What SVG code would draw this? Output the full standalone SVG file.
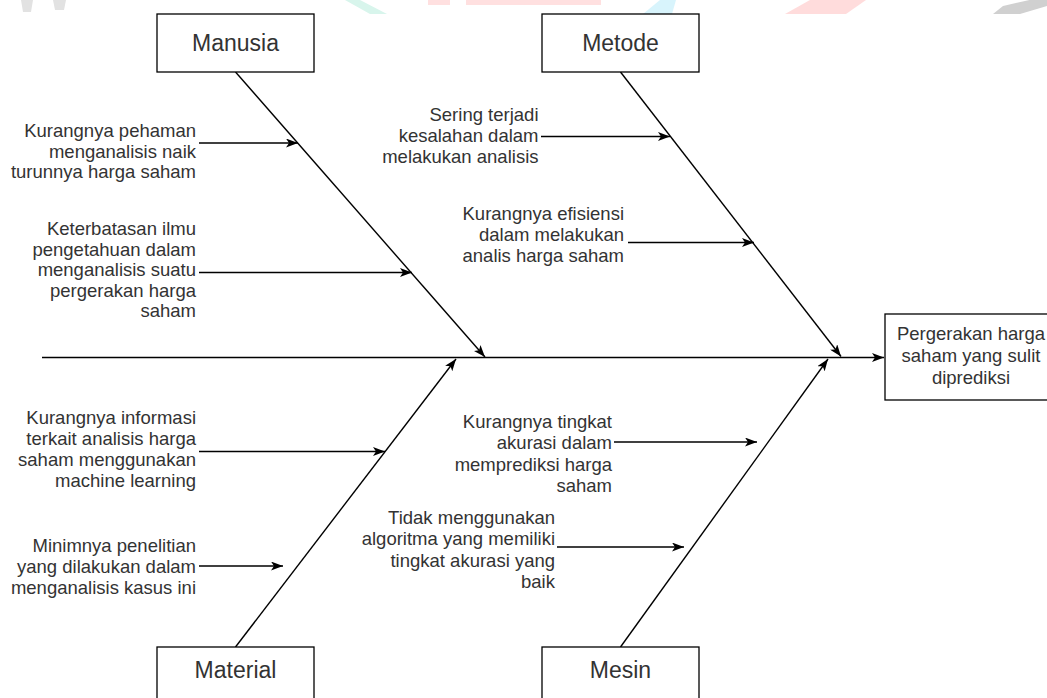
<svg xmlns="http://www.w3.org/2000/svg" width="1047" height="698" viewBox="0 0 1047 698">
<style>
.box{fill:#fff;stroke:#000;stroke-width:1.3}
.ln{fill:none;stroke:#000;stroke-width:1.4}
.t{font-family:"Liberation Sans",Arial,sans-serif;font-size:18.5px;fill:#333;text-anchor:end}
.c{text-anchor:middle}
.lbl{font-family:"Liberation Sans",Arial,sans-serif;font-size:23px;fill:#333;text-anchor:middle}
</style>
<defs>
<marker id="ar" viewBox="0 0 12 9" markerWidth="12" markerHeight="9" refX="12" refY="4.5" orient="auto" markerUnits="userSpaceOnUse">
<path d="M0,0 L12,4.5 L0,9 L3,4.5 Z" fill="#000"/>
</marker>
</defs>
<rect width="1047" height="698" fill="#fff"/>
<g id="watermark">
<polygon points="21,0 33,0 31,12 23,12" fill="#e2e2e2"/>
<polygon points="53,0 66,0 64,10 55,10" fill="#e2e2e2"/>
<polygon points="345,0 360,0 387,14 370,14" fill="#d8f5ec"/>
<rect x="428" y="0" width="22" height="5" fill="#ffe0e0"/>
<rect x="466" y="0" width="135" height="5" fill="#ffe0e0"/>
<polygon points="660,0 676,0 672,14 643,14" fill="#d8f4fc"/>
<polygon points="810,0 866,0 846,14 785,14" fill="#ffdcdc"/>
<polygon points="993,14 1003,6 1047,-4 1047,6 1020,14" fill="#d0d0d0"/>
</g>
<g id="connectors">
<line class="ln" x1="42" y1="357.5" x2="884" y2="357.5" marker-end="url(#ar)"/>
<line class="ln" x1="235.5" y1="72" x2="485" y2="357" marker-end="url(#ar)"/>
<line class="ln" x1="620.5" y1="72" x2="841" y2="356.5" marker-end="url(#ar)"/>
<line class="ln" x1="235.5" y1="647" x2="456" y2="359" marker-end="url(#ar)"/>
<line class="ln" x1="620.5" y1="647" x2="828" y2="359" marker-end="url(#ar)"/>
<line class="ln" x1="199" y1="143" x2="298" y2="143" marker-end="url(#ar)"/>
<line class="ln" x1="199" y1="272.5" x2="412" y2="272.5" marker-end="url(#ar)"/>
<line class="ln" x1="541" y1="136.5" x2="670" y2="136.5" marker-end="url(#ar)"/>
<line class="ln" x1="628" y1="242.5" x2="754" y2="242.5" marker-end="url(#ar)"/>
<line class="ln" x1="199" y1="451.5" x2="385" y2="451.5" marker-end="url(#ar)"/>
<line class="ln" x1="199" y1="566" x2="283" y2="566" marker-end="url(#ar)"/>
<line class="ln" x1="614" y1="442" x2="757" y2="442" marker-end="url(#ar)"/>
<line class="ln" x1="557" y1="547" x2="684" y2="547" marker-end="url(#ar)"/>
</g>
<g id="manusia"><rect class="box" x="157" y="14" width="157" height="58"/><text class="lbl" x="235.5" y="51">Manusia</text></g>
<g id="metode"><rect class="box" x="542" y="14" width="157" height="58"/><text class="lbl" x="620.5" y="51">Metode</text></g>
<g id="material"><rect class="box" x="157" y="647" width="157" height="60"/><text class="lbl" x="235.5" y="678">Material</text></g>
<g id="mesin"><rect class="box" x="542" y="647" width="157" height="60"/><text class="lbl" x="620.5" y="678">Mesin</text></g>
<g id="effect"><rect class="box" x="885" y="314" width="172" height="86"/>
<text class="t c" x="971" y="340">Pergerakan harga</text>
<text class="t c" x="971" y="362">saham yang sulit</text>
<text class="t c" x="971" y="383.5">diprediksi</text></g>
<g id="cause-m1">
<text class="t" x="196" y="137">Kurangnya pehaman</text>
<text class="t" x="196" y="157.5">menganalisis naik</text>
<text class="t" x="196" y="178">turunnya harga saham</text></g>
<g id="cause-m2">
<text class="t" x="196" y="235">Keterbatasan ilmu</text>
<text class="t" x="196" y="255.5">pengetahuan dalam</text>
<text class="t" x="196" y="276">menganalisis suatu</text>
<text class="t" x="196" y="296.5">pergerakan harga</text>
<text class="t" x="196" y="317">saham</text></g>
<g id="cause-me1">
<text class="t" x="538.5" y="120.5">Sering terjadi</text>
<text class="t" x="538.5" y="141.5">kesalahan dalam</text>
<text class="t" x="538.5" y="162.5">melakukan analisis</text></g>
<g id="cause-me2">
<text class="t" x="624" y="219.5">Kurangnya efisiensi</text>
<text class="t" x="624" y="241">dalam melakukan</text>
<text class="t" x="624" y="262">analis harga saham</text></g>
<g id="cause-ma1">
<text class="t" x="196" y="424">Kurangnya informasi</text>
<text class="t" x="196" y="445">terkait analisis harga</text>
<text class="t" x="196" y="466">saham menggunakan</text>
<text class="t" x="196" y="486.5">machine learning</text></g>
<g id="cause-ma2">
<text class="t" x="196" y="552">Minimnya penelitian</text>
<text class="t" x="196" y="573">yang dilakukan dalam</text>
<text class="t" x="196" y="594">menganalisis kasus ini</text></g>
<g id="cause-mes1">
<text class="t" x="612" y="428">Kurangnya tingkat</text>
<text class="t" x="612" y="449">akurasi dalam</text>
<text class="t" x="612" y="470.5">memprediksi harga</text>
<text class="t" x="612" y="491.5">saham</text></g>
<g id="cause-mes2">
<text class="t" x="555" y="524">Tidak menggunakan</text>
<text class="t" x="555" y="545">algoritma yang memiliki</text>
<text class="t" x="555" y="566.5">tingkat akurasi yang</text>
<text class="t" x="555" y="587.5">baik</text></g>
</svg>
